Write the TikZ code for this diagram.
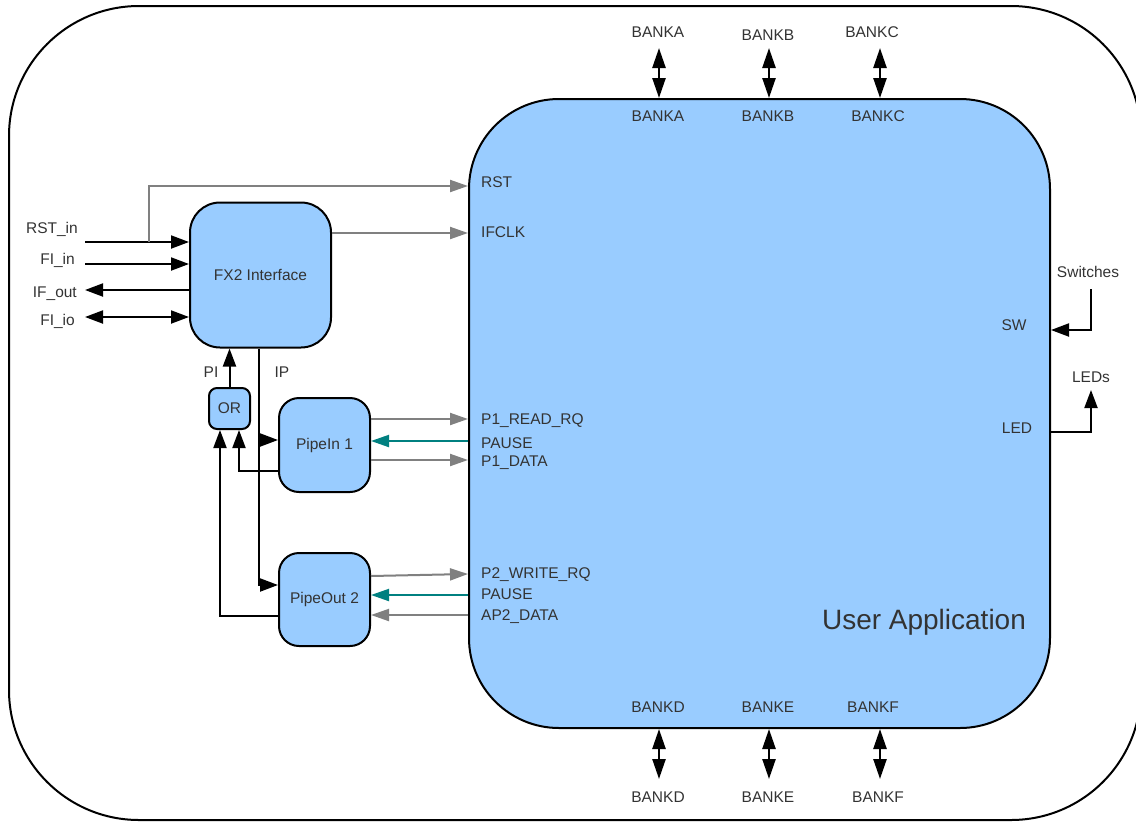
\documentclass[tikz,border=0pt]{standalone}
\usepackage{fontspec}
\setmainfont{Liberation Sans}
\usetikzlibrary{arrows.meta,calc}
\definecolor{boxfill}{HTML}{99CCFF}
\definecolor{txt}{HTML}{333333}
\definecolor{gryline}{HTML}{808080}
\definecolor{tealline}{HTML}{008080}
\begin{document}
\begin{tikzpicture}[x=1pt,y=-1pt,
  font=\fontsize{15.5}{18}\selectfont, text=txt,
  blockbox/.style={draw=black, line width=2pt, fill=boxfill, rectangle, inner sep=0pt},
  lbl/.style={inner sep=0pt, text=txt, yshift=-1.5pt},
  blk/.style={draw=black, line width=2pt, -{Triangle[length=18pt,width=13pt]}},
  blkboth/.style={draw=black, line width=2pt, {Triangle[length=18pt,width=13pt]}-{Triangle[length=18pt,width=13pt]}},
  bankarr/.style={draw=black, line width=2.5pt, {Triangle[length=20pt,width=13pt]}-{Triangle[length=20pt,width=13pt]}},
  gry/.style={draw=gryline, line width=2pt, -{Triangle[length=18pt,width=12pt]}},
  tl/.style={draw=tealline, line width=2pt, -{Triangle[length=18pt,width=12pt]}}
]
\useasboundingbox (0,0) rectangle (1136,823);
\clip (0,0) rectangle (1136,823);
\fill[white] (0,0) rectangle (1136,823);
% outer frame
\draw[line width=2pt, rounded corners=130pt] (9,6) rectangle (1141,820);

% blocks
\node[blockbox, rounded corners=90pt, minimum width=581pt, minimum height=629pt] (app) at (759.5,413.5) {};
\node[blockbox, rounded corners=30pt, minimum width=141pt, minimum height=145pt] (fx2) at (260.5,275) {FX2 Interface};
\node[blockbox, rounded corners=8pt, minimum width=41pt, minimum height=41pt] (or) at (229.5,408.5) {OR};
\node[blockbox, rounded corners=20pt, minimum width=91pt, minimum height=94pt] (pin) at (324.5,445) {PipeIn 1};
\node[blockbox, rounded corners=20pt, minimum width=91pt, minimum height=93pt] (pout) at (324.5,599.5) {PipeOut 2};

\node[lbl, font=\fontsize{28}{32}\selectfont] (uapp) at (924,621) {User Application};

% left labels
\node[lbl, anchor=east] (rstin) at (78,228) {RST\_in};
\node[lbl, anchor=east] (fiin) at (75,259) {FI\_in};
\node[lbl, anchor=east] (ifout) at (77,292) {IF\_out};
\node[lbl, anchor=east] (fiio) at (75,320) {FI\_io};
\node[lbl] (pil) at (211,371) {PI};
\node[lbl] (ipl) at (282,371) {IP};

\coordinate (rstL) at (85,242);
\coordinate (rstB) at (149,242);
\coordinate (rstT) at (149,186);
\coordinate (fiinL) at (85,264);
\coordinate (ifoutL) at (85,290);
\coordinate (fiioL) at (85,317);

% port labels inside app
\foreach \nm/\t/\yy in {prst/RST/181, pclk/IFCLK/231, p1rq/P1\_READ\_RQ/419, p1pa/PAUSE/442, p1da/P1\_DATA/461, p2wr/P2\_WRITE\_RQ/573, p2pa/PAUSE/593, p2da/AP2\_DATA/615}
  \node[lbl, anchor=west] (\nm) at (481,\yy) {\t};

% FX2 connections
\draw[blk] (rstL) -- (fx2.west |- rstL);
\draw[gry] (rstB) -- (rstT) -- (app.west |- rstT);
\draw[blk] (fiinL) -- (fx2.west |- fiinL);
\draw[blk] (fx2.west |- ifoutL) -- (ifoutL);
\draw[blkboth] (fiioL) -- (fx2.west |- fiioL);
\draw[gry] (fx2.east |- 0,233) -- (app.west |- 0,233);

% OR and IP
\draw[blk] (or.north) -- (or.north |- fx2.south);
\draw[blk] (fx2.south -| 259,0) -- (259,585) -- (pout.west |- 0,585);
\draw[blk] (259,440) -- (pin.west |- 0,440);
\draw[blk] (pin.west |- 0,471) -| ([xshift=9.5pt]or.south);
\draw[blk] (pout.west |- 0,616) -| ([xshift=-9.5pt]or.south);

% pipe connections
\draw[gry] (pin.east |- 0,419) -- (app.west |- 0,419);
\draw[tl] (app.west |- 0,441) -- (pin.east |- 0,441);
\draw[gry] (pin.east |- 0,460) -- (app.west |- 0,460);
\draw[gry] (pout.east |- 0,576) -- (app.west |- 0,574);
\draw[tl] (app.west |- 0,595) -- (pout.east |- 0,595);
\draw[gry] (app.west |- 0,615) -- (pout.east |- 0,615);

% banks top
\node[lbl] (bao) at (658,31) {BANKA};
\node[lbl] (bbo) at (768,34) {BANKB};
\node[lbl] (bco) at (872,31) {BANKC};
\node[lbl] (bai) at (658,115) {BANKA};
\node[lbl] (bbi) at (768,115) {BANKB};
\node[lbl] (bci) at (878,115) {BANKC};
\draw[bankarr] (659,48) -- (app.north -| 659,0);
\draw[bankarr] (769,48) -- (app.north -| 769,0);
\draw[bankarr] (880,48) -- (app.north -| 880,0);

% banks bottom
\node[lbl] (bdi) at (658,706) {BANKD};
\node[lbl] (bei) at (768,706) {BANKE};
\node[lbl] (bfi) at (873,706) {BANKF};
\node[lbl] (bdo) at (658,796) {BANKD};
\node[lbl] (beo) at (768,796) {BANKE};
\node[lbl] (bfo) at (878,796) {BANKF};
\draw[bankarr] (app.south -| 659,0) -- (659,779);
\draw[bankarr] (app.south -| 769,0) -- (769,779);
\draw[bankarr] (app.south -| 880,0) -- (880,779);

% switches / LEDs
\node[lbl] (swl) at (1088,270) {Switches};
\node[lbl] (sw) at (1014,324) {SW};
\node[lbl] (led) at (1017,427) {LED};
\node[lbl] (ledsl) at (1091,376) {LEDs};
\draw[blk] (1091,289) -- (1091,330) -- (app.east |- 0,330);
\draw[blk] (app.east |- 0,432) -- (1091,432) -- (1091,390);
\end{tikzpicture}
\end{document}
